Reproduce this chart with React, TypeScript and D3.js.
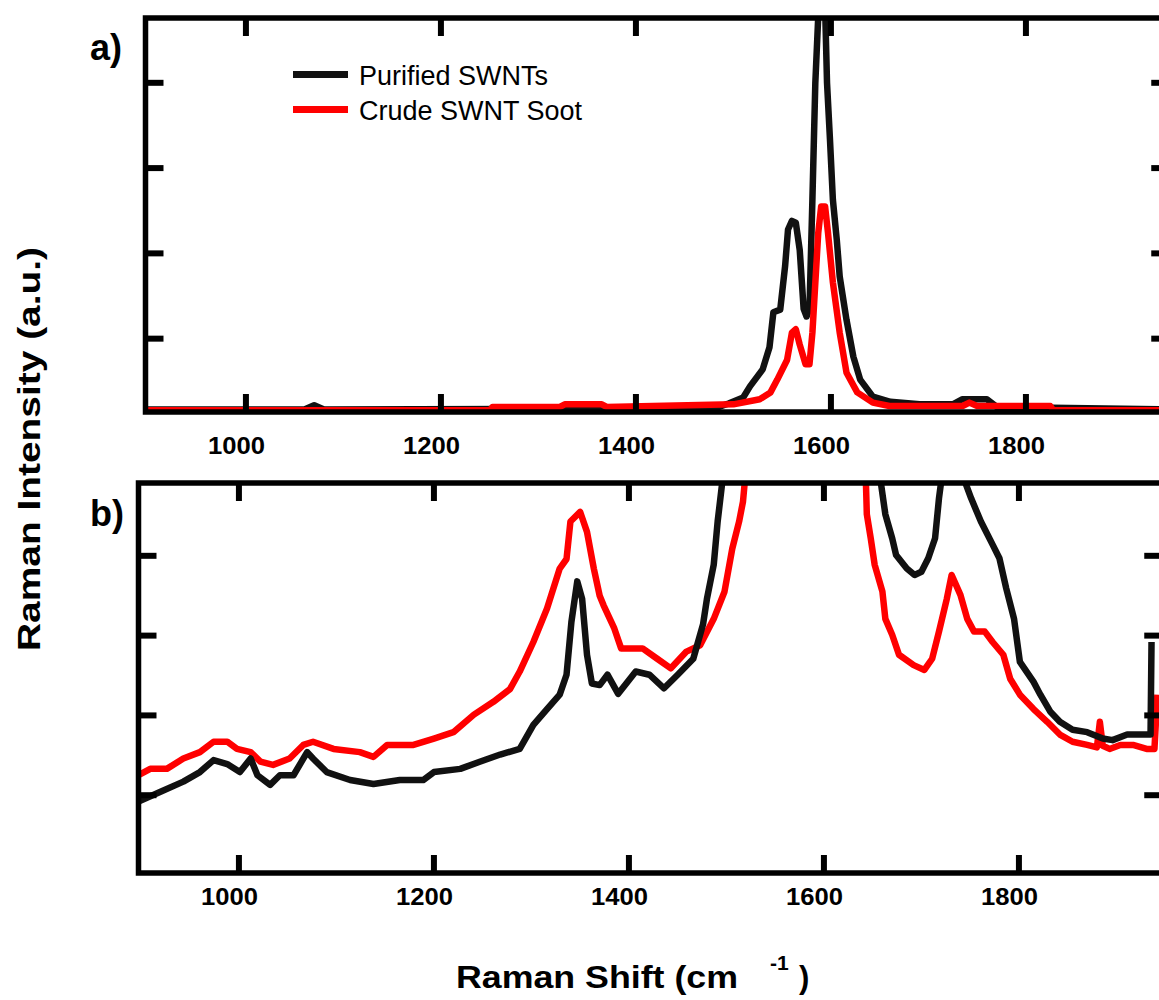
import React from 'react'
import * as d3 from 'd3'

// Raman spectra, intensity in tick units (a.u.)
const shiftTicks = [1000, 1200, 1400, 1600, 1800]
const intensityTicks = [1, 2, 3, 4]

const seriesNames = ['Purified SWNTs', 'Crude SWNT Soot']
const seriesColors = ['#111111', '#ff0000']

// panel a) full scale
const purifiedA: [number, number][] = [
  [897, 0.17], [1060, 0.17], [1070, 0.22], [1080, 0.17], [1480, 0.18], [1495, 0.24], [1510, 0.31],
  [1517, 0.44], [1530, 0.64], [1537, 0.9], [1541, 1.31], [1548, 1.34], [1553, 1.85], [1556, 2.28],
  [1560, 2.38], [1564, 2.36], [1568, 2.04], [1572, 1.35], [1575, 1.26], [1578, 1.35], [1581, 2.63],
  [1584, 4.0], [1587, 4.78], [1590, 5.1], [1594, 4.9], [1596, 4.0], [1599, 3.34], [1602, 2.63],
  [1606, 2.16], [1609, 1.73], [1616, 1.22], [1623, 0.79], [1630, 0.52], [1643, 0.32], [1661, 0.26],
  [1691, 0.23], [1725, 0.23], [1735, 0.29], [1760, 0.29], [1770, 0.2], [1947, 0.17],
]
const crudeA: [number, number][] = [
  [897, 0.16], [1250, 0.16], [1253, 0.2], [1322, 0.2], [1327, 0.23], [1365, 0.23], [1370, 0.2],
  [1500, 0.23], [1527, 0.29], [1538, 0.37], [1545, 0.52], [1555, 0.75], [1560, 1.07], [1564, 1.11],
  [1568, 0.93], [1574, 0.7], [1578, 0.7], [1581, 1.07], [1587, 2.24], [1590, 2.55], [1594, 2.55],
  [1597, 2.24], [1602, 1.66], [1609, 1.07], [1616, 0.6], [1627, 0.37], [1643, 0.25], [1660, 0.21],
  [1735, 0.21], [1742, 0.25], [1750, 0.21], [1825, 0.21], [1828, 0.16], [1947, 0.16],
]

// panel b) expanded scale
const purifiedB: [number, number][] = [
  [897, 0.92], [919, 1.04], [943, 1.17], [960, 1.29], [974, 1.44], [988, 1.39], [1001, 1.29],
  [1012, 1.46], [1019, 1.25], [1032, 1.13], [1042, 1.25], [1056, 1.25], [1070, 1.54], [1076, 1.46],
  [1090, 1.29], [1114, 1.19], [1138, 1.14], [1165, 1.19], [1189, 1.19], [1200, 1.29], [1227, 1.33],
  [1247, 1.42], [1268, 1.51], [1288, 1.58], [1302, 1.88], [1316, 2.08], [1329, 2.26], [1336, 2.51],
  [1341, 3.17], [1347, 3.68], [1352, 3.46], [1357, 2.76], [1362, 2.4], [1370, 2.38], [1378, 2.51],
  [1389, 2.27], [1407, 2.55], [1421, 2.51], [1436, 2.34], [1450, 2.51], [1466, 2.71], [1476, 3.14],
  [1480, 3.46], [1487, 3.89], [1491, 4.43], [1496, 4.95], [1505, 6.5], [1560, 14], [1590, 22],
  [1630, 9], [1658, 4.95], [1663, 4.52], [1670, 4.22], [1674, 4.01], [1685, 3.84], [1693, 3.76],
  [1700, 3.8], [1707, 3.97], [1714, 4.22], [1718, 4.72], [1721, 5.0], [1730, 5.6], [1738, 5.6],
  [1744, 4.95], [1751, 4.72], [1761, 4.43], [1773, 4.14], [1780, 3.97], [1787, 3.59], [1795, 3.21],
  [1801, 2.67], [1815, 2.42], [1822, 2.26], [1832, 2.05], [1842, 1.92], [1855, 1.82], [1870, 1.79],
  [1886, 1.71], [1896, 1.69], [1911, 1.76], [1927, 1.76], [1935, 1.76], [1936, 2.92],
]
const crudeB: [number, number][] = [
  [897, 1.25], [909, 1.33], [926, 1.33], [943, 1.46], [960, 1.54], [974, 1.67], [988, 1.67],
  [998, 1.58], [1012, 1.54], [1022, 1.42], [1035, 1.38], [1052, 1.46], [1066, 1.63], [1076, 1.67],
  [1097, 1.58], [1124, 1.54], [1138, 1.48], [1152, 1.63], [1179, 1.63], [1200, 1.71], [1220, 1.79],
  [1241, 2.01], [1261, 2.17], [1278, 2.33], [1288, 2.55], [1302, 2.92], [1316, 3.34], [1329, 3.84],
  [1336, 3.96], [1340, 4.43], [1350, 4.55], [1357, 4.3], [1364, 3.84], [1370, 3.5], [1374, 3.38],
  [1385, 3.09], [1392, 2.84], [1414, 2.84], [1429, 2.71], [1443, 2.59], [1459, 2.8], [1473, 2.88],
  [1487, 3.21], [1498, 3.55], [1506, 4.09], [1513, 4.43], [1517, 4.68], [1519, 4.95], [1530, 6],
  [1570, 12], [1600, 22], [1630, 8], [1643, 4.95], [1644, 4.52], [1648, 4.22], [1652, 3.89],
  [1660, 3.55], [1663, 3.21], [1670, 3.01], [1677, 2.76], [1692, 2.63], [1703, 2.57], [1711, 2.71],
  [1718, 3.05], [1726, 3.46], [1731, 3.76], [1740, 3.51], [1747, 3.21], [1754, 3.05], [1765, 3.05],
  [1773, 2.92], [1784, 2.76], [1791, 2.46], [1801, 2.26], [1815, 2.08], [1829, 1.92], [1842, 1.76],
  [1855, 1.67], [1870, 1.63], [1880, 1.6], [1883, 1.92], [1886, 1.62], [1893, 1.58], [1904, 1.63],
  [1917, 1.63], [1931, 1.58], [1939, 1.58], [1942, 2.26],
]

const W = 1159
const H = 1000
const FONT = '"Liberation Sans", Arial, Helvetica, sans-serif'

type PanelProps = {
  id: string
  x: d3.ScaleLinear<number, number>
  y: d3.ScaleLinear<number, number>
  top: number
  bottom: number
  series: [number, number][][]
  order: number[]
  label: string
  labelY: number
  tickLabelY: number
}

const Panel = ({ id, x, y, top, bottom, series, order, label, labelY, tickLabelY }: PanelProps) => {
  const [left, right] = x.range()
  const line = d3
    .line<[number, number]>()
    .x((d) => x(d[0]))
    .y((d) => y(d[1]))
  const tickLen = 18
  return (
    <g>
      <defs>
        <clipPath id={id}>
          <rect x={left} y={top} width={right - left} height={bottom - top} />
        </clipPath>
      </defs>
      <g clipPath={`url(#${id})`}>
        {order.map((i) => (
          <path
            key={i}
            d={line(series[i]) || ''}
            fill="none"
            stroke={seriesColors[i]}
            strokeWidth={6.5}
            strokeLinejoin="round"
          />
        ))}
      </g>
      {/* frame */}
      <rect x={left} y={top} width={right - left} height={bottom - top} fill="none" stroke="#000" strokeWidth={5.5} />
      {shiftTicks.map((t) => (
        <g key={t}>
          <line x1={x(t)} x2={x(t)} y1={top} y2={top + tickLen} stroke="#000" strokeWidth={6} />
          <line x1={x(t)} x2={x(t)} y1={bottom} y2={bottom - tickLen} stroke="#000" strokeWidth={6} />
          <text
            x={x(t) - 38}
            y={tickLabelY}
            fontFamily={FONT}
            fontWeight="bold"
            fontSize={24}
            textLength={57}
            lengthAdjust="spacingAndGlyphs"
          >
            {t}
          </text>
        </g>
      ))}
      {intensityTicks.map((t) => (
        <g key={t}>
          <line x1={left} x2={left + tickLen} y1={y(t)} y2={y(t)} stroke="#000" strokeWidth={6} />
          <line x1={right} x2={right - tickLen} y1={y(t)} y2={y(t)} stroke="#000" strokeWidth={6} />
        </g>
      ))}
      <text x={90} y={labelY} fontFamily={FONT} fontWeight="bold" fontSize={36}>
        {label}
      </text>
    </g>
  )
}

const App = () => {
  const xA = d3.scaleLinear().domain([897, 1947]).range([145.5, 1169.25])
  const yA = d3.scaleLinear().domain([0.14, 4.76]).range([412, 18])
  const xB = d3.scaleLinear().domain([897, 1947]).range([138.5, 1162.25])
  const yB = d3.scaleLinear().domain([0, 4.9]).range([875, 484])

  return (
    <svg width={W} height={H} style={{ position: 'absolute', left: 0, top: 0, background: '#fff' }}>
      <rect width={W} height={H} fill="#fff" />
      <Panel
        id="clipA"
        x={xA}
        y={yA}
        top={18}
        bottom={412}
        series={[purifiedA, crudeA]}
        order={[0, 1]}
        label="a)"
        labelY={60}
        tickLabelY={454}
      />
      <Panel
        id="clipB"
        x={xB}
        y={yB}
        top={483}
        bottom={873}
        series={[purifiedB, crudeB]}
        order={[1, 0]}
        label="b)"
        labelY={526}
        tickLabelY={905}
      />

      {/* legend */}
      {seriesNames.map((name, i) => (
        <g key={name}>
          <line x1={293} x2={348} y1={74.5 + i * 35} y2={74.5 + i * 35} stroke={seriesColors[i]} strokeWidth={7} />
          <text x={359} y={85 + i * 35} fontFamily={FONT} fontSize={27}>
            {name}
          </text>
        </g>
      ))}

      {/* axis titles */}
      <text
        transform="translate(40,449) rotate(-90)"
        textAnchor="middle"
        fontFamily={FONT}
        fontWeight="bold"
        fontSize={31}
        textLength={404}
        lengthAdjust="spacingAndGlyphs"
      >
        Raman Intensity (a.u.)
      </text>
      <text
        x={456}
        y={988}
        fontFamily={FONT}
        fontWeight="bold"
        fontSize={31}
        textLength={282}
        lengthAdjust="spacingAndGlyphs"
      >
        Raman Shift (cm
      </text>
      <text x={770} y={970} fontFamily={FONT} fontWeight="bold" fontSize={21}>
        -1
      </text>
      <text x={799} y={988} fontFamily={FONT} fontWeight="bold" fontSize={31}>
        )
      </text>
    </svg>
  )
}

export default App
